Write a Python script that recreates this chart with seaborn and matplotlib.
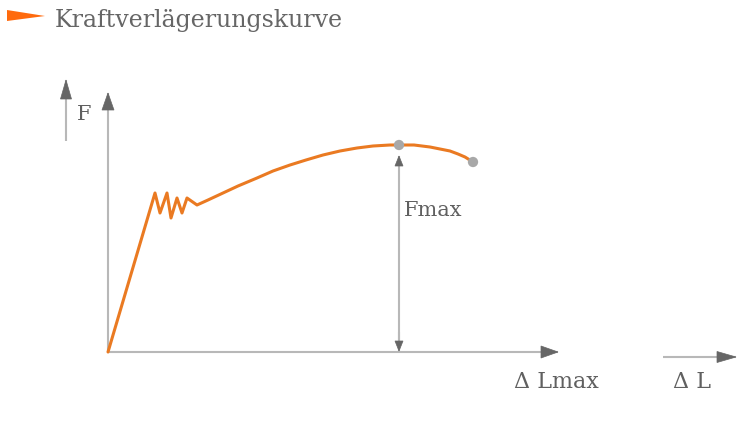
import matplotlib
matplotlib.use("Agg")
import matplotlib.pyplot as plt
import seaborn as sns
import pandas as pd
import numpy as np
from matplotlib.patches import Polygon

# Data (elongation ΔL vs force F, arbitrary units)
dL = [0, 47, 52, 59, 63, 69, 74, 79, 89, 100, 115, 130, 149, 165, 182, 198, 215, 232, 249, 265, 282, 291,
      306, 322, 332, 342, 350, 357, 365]
F = [0, 159, 139, 159, 134, 154, 139, 154, 147, 152, 159, 166, 174, 181, 187, 192, 197, 201, 204, 206, 207, 207,
     207, 205, 203, 201, 198, 195, 190]
marker_dL = [291, 365]
marker_F = [207, 190]

title = "Kraftverlägerungskurve"
y_label = "F"
x_label = "Δ Lmax"
x_label2 = "Δ L"
fmax_label = "Fmax"

sns.set_theme(style="white")
plt.rcParams["font.family"] = ["DejaVu Serif", "DejaVu Sans"]

fig = plt.figure(figsize=(7.5, 4.21), dpi=100)
ax = fig.add_axes([0, 0, 1, 1])
ax.set_xlim(-108, 642)
ax.set_ylim(-69, 352)
ax.axis("off")

axis_c = "#b8b8b8"
head_c = "#666666"
orange = "#ea7a22"

def arrow(x0, y0, x1, y1, hl=17, hw=12, lw=1.5):
    ax.plot([x0, x1], [y0, y1], color=axis_c, lw=lw, solid_capstyle="butt", zorder=2)
    d = np.array([x1 - x0, y1 - y0], float)
    d /= np.hypot(*d)
    n = np.array([-d[1], d[0]])
    tip = np.array([x1, y1], float)
    base = tip - d * hl
    poly = Polygon([tip, base + n * hw / 2, base - n * hw / 2], closed=True,
                   facecolor=head_c, edgecolor=head_c, lw=0.5, zorder=3)
    ax.add_patch(poly)

# main axes
arrow(0, 0, 0, 352 - 93)
arrow(0, 0, 558 - 108, 0)
# outer small axis arrows
arrow(66 - 108, 352 - 141, 66 - 108, 352 - 80, hl=19, hw=11)
arrow(663 - 108, 352 - 357, 736 - 108, 352 - 357, hl=19, hw=11)
# Fmax double arrow
arrow(marker_dL[0], 8, marker_dL[0], marker_F[0] - 11, hl=10, hw=8)
arrow(marker_dL[0], 20, marker_dL[0], 1, hl=10, hw=8)

df = pd.DataFrame({"dL": dL, "F": F})
sns.lineplot(data=df, x="dL", y="F", sort=False, color=orange, lw=2.2, ax=ax, zorder=4)
ax.scatter(marker_dL, marker_F, s=55, color="#a8a8a8", zorder=5, edgecolors="none")

tc = "#606060"
ax.text(84 - 108, 352 - 114, y_label, fontsize=15, color=tc, ha="center", va="center")
ax.text(556 - 108, 352 - 382, x_label, fontsize=16, color=tc, ha="center", va="center")
ax.text(692 - 108, 352 - 382, x_label2, fontsize=16, color=tc, ha="center", va="center")
ax.text(404 - 108, 352 - 211, fmax_label, fontsize=15, color=tc, ha="left", va="center")

# title marker and title
fig.patches.append(Polygon([[7 / 750, 1 - 10 / 421], [7 / 750, 1 - 21 / 421], [45 / 750, 1 - 16 / 421]],
                           closed=True, transform=fig.transFigure, facecolor="#ff6a0d", edgecolor="none"))
fig.text(55 / 750, 1 - 20 / 421, title, fontsize=17, color="#666666", ha="left", va="center")

fig.savefig("out.png", dpi=100)
